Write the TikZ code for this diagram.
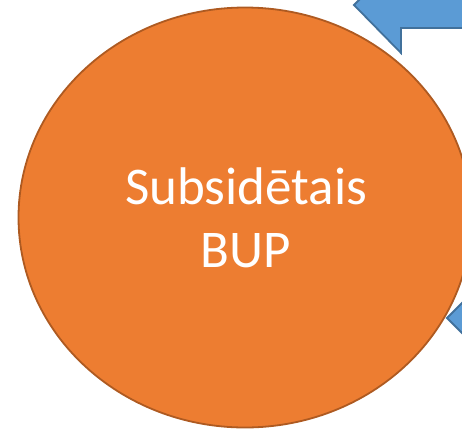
\documentclass[tikz,border=0pt]{standalone}
\usepackage{fontspec}
\setmainfont{Carlito}
\usetikzlibrary{shapes.geometric}
\definecolor{orfill}{HTML}{ED7D31}
\definecolor{orline}{HTML}{AE5A21}
\definecolor{blfill}{HTML}{5B9BD5}
\definecolor{blline}{HTML}{41719C}
\tikzset{
  blob/.style={ellipse, fill=orfill, draw=orline, line width=1.8pt, minimum width=453pt, minimum height=420pt, inner sep=0pt},
  blarrow/.style={fill=blfill, draw=blline, line width=1.8pt, line join=miter},
  lbl/.style={text=white, align=center, font=\fontsize{53}{63}\selectfont, inner sep=0pt}
}
\begin{document}
\begin{tikzpicture}[x=1pt,y=-1pt]
\useasboundingbox (0,0) rectangle (462,429);
\clip (0,0) rectangle (462,429);
\node[blob] (c) at (245,217.5) {};
\draw[blarrow] (354,5) -- (401,-42) -- (401,-18) -- (480,-18) -- (480,28) -- (401,28) -- (401,53) -- cycle;
\draw[blarrow] (447,318) -- (492,273) -- (492,297) -- (520,297) -- (520,339) -- (492,339) -- (492,363) -- cycle;
\node[lbl] (t) at (246,218) {Subsidētais\\BUP};
\end{tikzpicture}
\end{document}
